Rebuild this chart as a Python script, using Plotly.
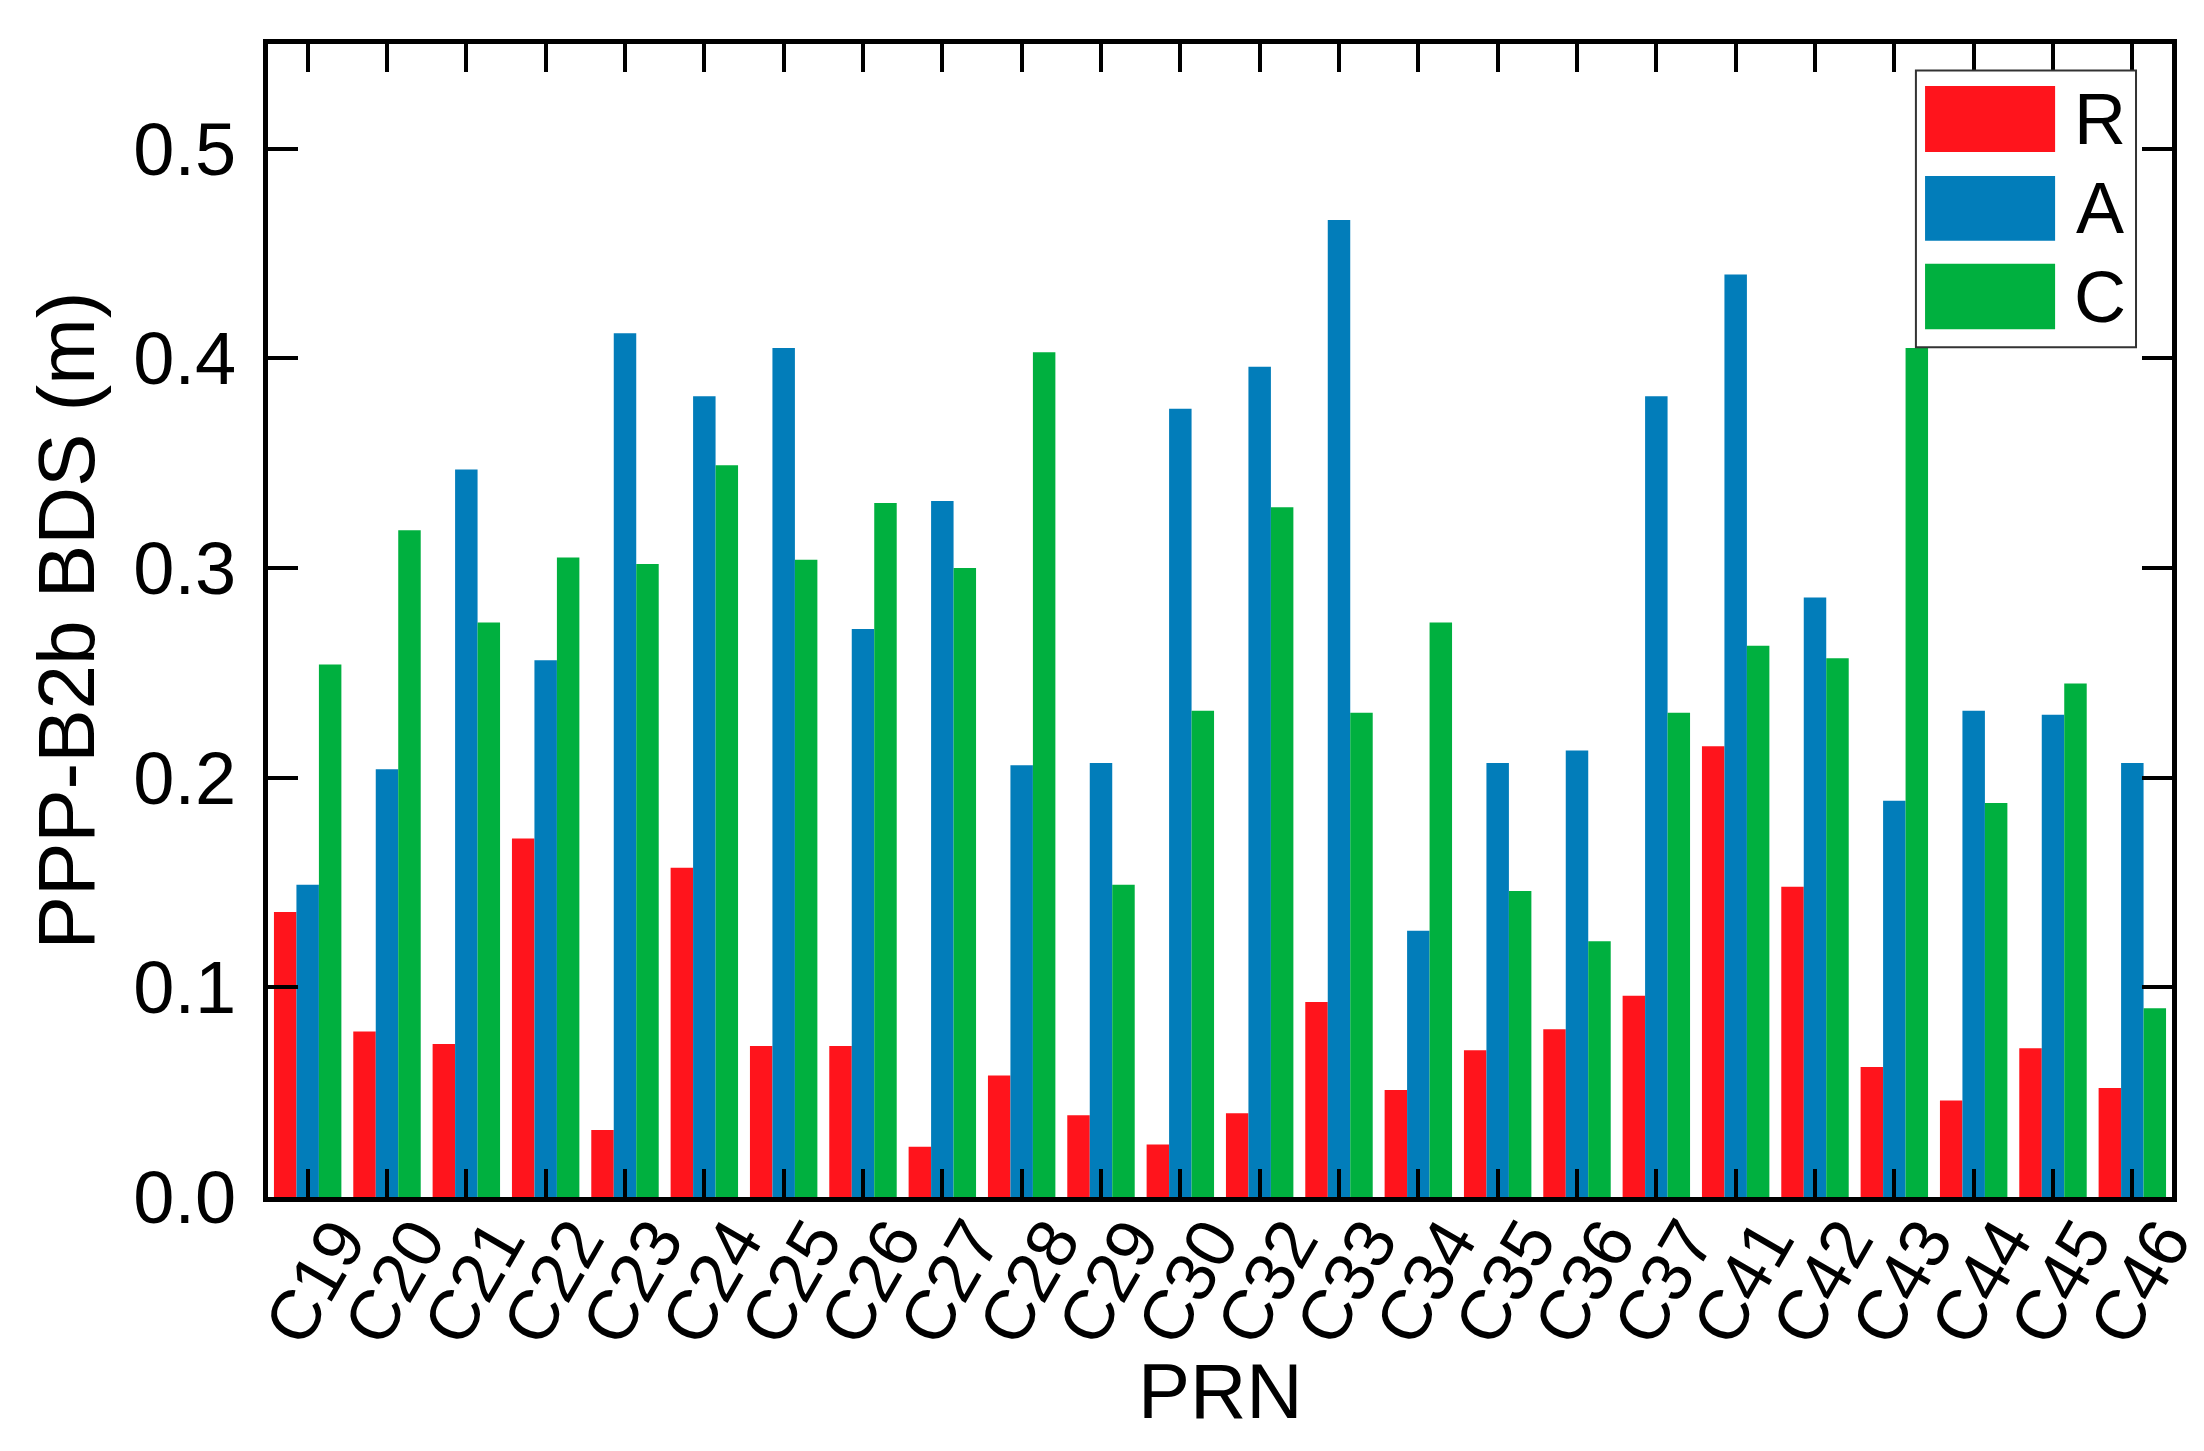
import plotly.graph_objects as go

# PRN categories and per-series values (m)
prn = ["C19", "C20", "C21", "C22", "C23", "C24", "C25", "C26", "C27", "C28", "C29", "C30",
       "C32", "C33", "C34", "C35", "C36", "C37", "C41", "C42", "C43", "C44", "C45", "C46"]

r_vals = [0.136, 0.079, 0.073, 0.171, 0.032, 0.157, 0.072, 0.072, 0.024, 0.058, 0.039, 0.025,
          0.040, 0.093, 0.051, 0.070, 0.080, 0.096, 0.215, 0.148, 0.062, 0.046, 0.071, 0.052]
a_vals = [0.149, 0.204, 0.347, 0.256, 0.412, 0.382, 0.405, 0.271, 0.332, 0.206, 0.207, 0.376,
          0.396, 0.466, 0.127, 0.207, 0.213, 0.382, 0.440, 0.286, 0.189, 0.232, 0.230, 0.207]
c_vals = [0.254, 0.318, 0.274, 0.305, 0.302, 0.349, 0.304, 0.331, 0.300, 0.403, 0.149, 0.232,
          0.329, 0.231, 0.274, 0.146, 0.122, 0.231, 0.263, 0.257, 0.405, 0.188, 0.245, 0.090]

y_ticks = [0.0, 0.1, 0.2, 0.3, 0.4, 0.5]

series = [("R", r_vals, "#ff141c"), ("A", a_vals, "#027dba"), ("C", c_vals, "#00b03f")]

FONT = "Liberation Sans, Arial, sans-serif"

fig = go.Figure()
for name, vals, col in series:
    fig.add_trace(go.Bar(x=prn, y=vals, name=name, marker=dict(color=col, line=dict(width=0))))

fig.update_layout(
    width=2204, height=1451,
    paper_bgcolor="white", plot_bgcolor="white",
    barmode="group", bargap=0.15, bargroupgap=0,
    showlegend=False,
    margin=dict(l=260, r=40, t=36, b=262, autoexpand=False),
    font=dict(family=FONT, color="black", size=72),
)

fig.update_xaxes(
    tickmode="array", tickvals=prn, ticktext=prn,
    showline=True, linecolor="black", linewidth=5, mirror="allticks",
    ticks="inside", ticklen=28, tickwidth=4, tickcolor="black",
    tickangle=-60, tickfont=dict(size=70),
    ticklabelstandoff=-30, ticklabelshift=30,
    showgrid=False, zeroline=False,
)
fig.update_yaxes(
    range=[0, 0.55], tickvals=y_ticks, tickformat=".1f",
    showline=True, linecolor="black", linewidth=5, mirror="allticks",
    ticks="inside", ticklen=30, tickwidth=4, tickcolor="black",
    ticklabelstandoff=12, tickfont=dict(size=74),
    showgrid=False, zeroline=False,
    title=dict(text="PPP-B2b BDS (m)", font=dict(size=80), standoff=14),
)

# x-axis title placed explicitly so it sits just under the slanted labels
fig.add_annotation(xref="paper", yref="paper", x=0.5, y=-0.168, text="PRN", showarrow=False,
                   font=dict(size=78, color="black"), xanchor="center", yanchor="middle")

# legend drawn as boxes in paper space to get the large swatches
fig.add_shape(type="rect", xref="paper", yref="paper", x0=0.8655, x1=0.9811, y0=0.737, y1=0.977,
              line=dict(color="#333333", width=2), fillcolor="white", layer="above")
sw_y = [(0.9063, 0.9636), (0.8294, 0.8855), (0.7525, 0.8094)]
for (name, vals, col), (y0, y1) in zip(series, sw_y):
    fig.add_shape(type="rect", xref="paper", yref="paper", x0=0.8703, x1=0.9386, y0=y0, y1=y1,
                  line=dict(width=0), fillcolor=col, layer="above")
    fig.add_annotation(xref="paper", yref="paper", x=0.962, y=(y0 + y1) / 2, text=name,
                       showarrow=False, font=dict(size=72, color="black"),
                       xanchor="center", yanchor="middle")

fig.write_html("out.html")
